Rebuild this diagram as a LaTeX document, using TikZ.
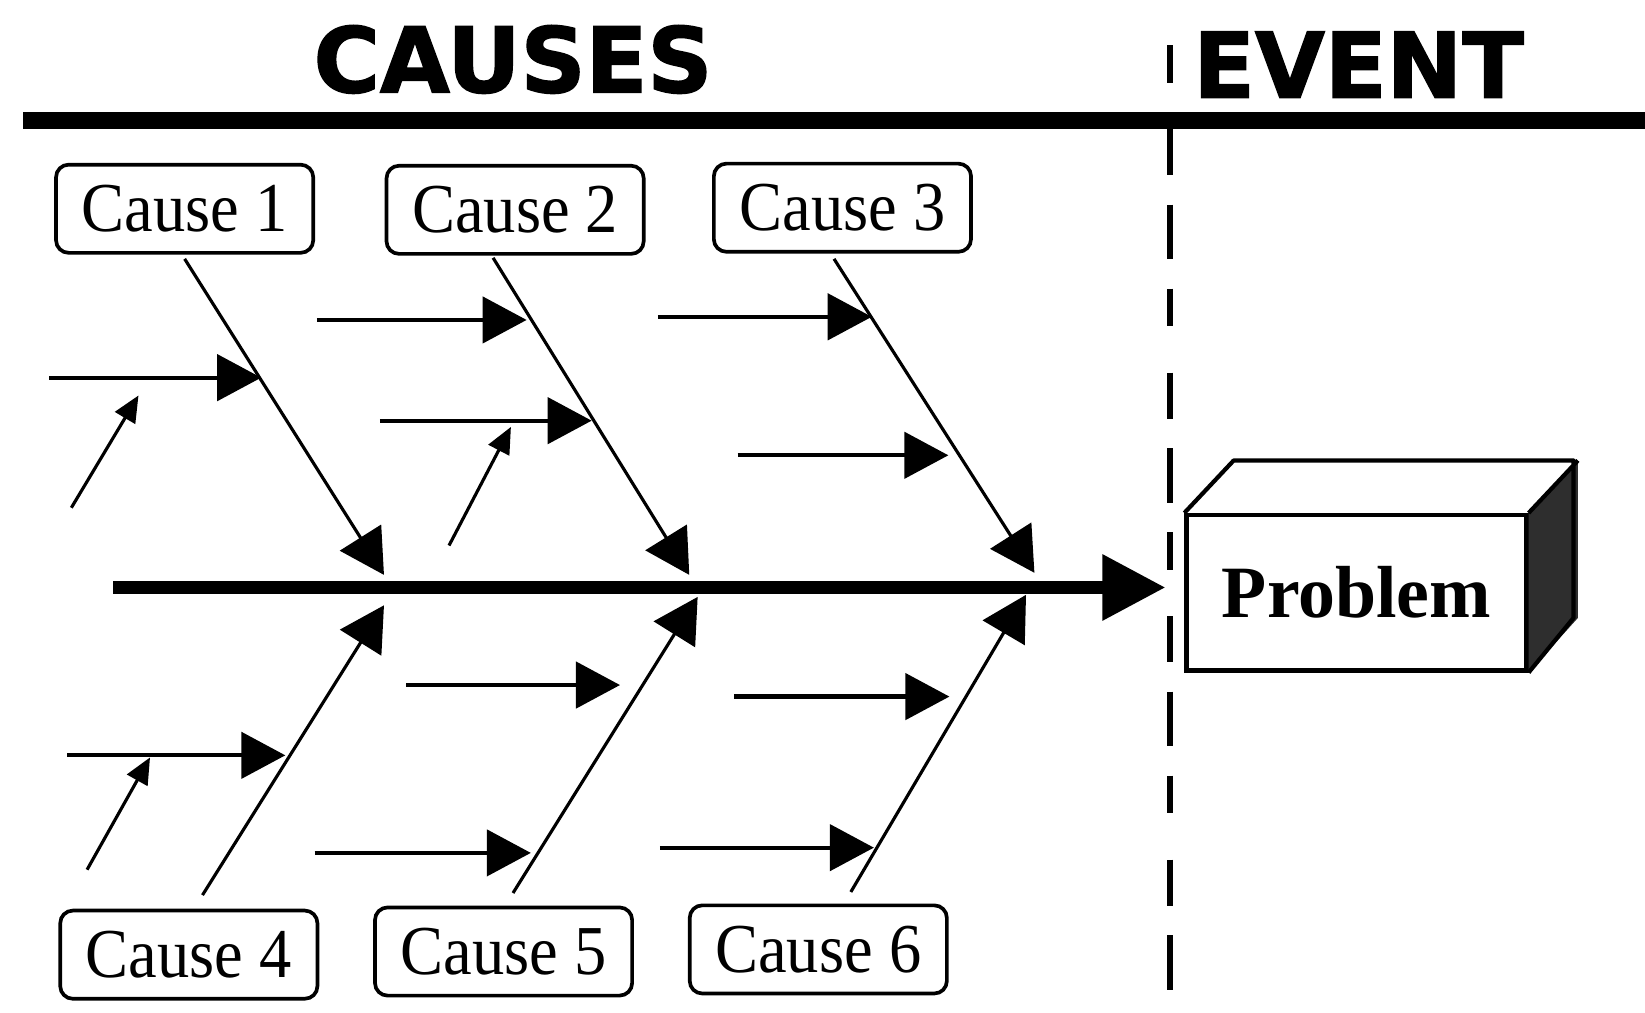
\documentclass[tikz,border=0pt]{standalone}
\usepackage{fontspec}
\setmainfont{Liberation Serif}
\newfontfamily\causefont{Liberation Serif}[FakeStretch=0.92]
\newfontfamily\headfont{DejaVu Sans}[FakeBold=1.6]
\usetikzlibrary{arrows.meta,calc}

\tikzset{
	causebox/.style={draw, line width=0.035cm, rounded corners=0.12cm, minimum width=2.45cm, minimum height=0.84cm, inner sep=0pt, font=\causefont\fontsize{19}{22}\selectfont},
	headline/.style={anchor=base, font=\headfont\bfseries\fontsize{24.5}{28}\selectfont},
	bone/.style={line width=0.03cm, -{Triangle[length=0.42cm,width=0.46cm]}},
	twig/.style={line width=0.04cm, -{Triangle[length=0.42cm,width=0.44cm]}},
	leaf/.style={line width=0.03cm, -{Triangle[length=0.25cm,width=0.22cm]}},
}

\begin{document}
\begin{tikzpicture}[x=0.01cm, y=-0.01cm]
	\useasboundingbox (0,0) rectangle (1568,965);

	\node[headline] (causes) at (489,88) {CAUSES};
	\node[headline] (event) at (1295,93) {EVENT};
	\draw[line width=0.16cm] (22,115) -- (1568,115);
	\draw[line width=0.06cm, dash pattern=on 0.36cm off 0.44cm on 0.44cm off 0.28cm on 0.52cm off 0.28cm] (1115,43) -- (1115,965);

	% the event box
	\node[draw, line width=0.04cm, minimum width=3.24cm, minimum height=1.48cm, font=\bfseries\fontsize{20}{24}\selectfont] (prob) at (1293,565) {Problem};
	\fill[black!82] (prob.north east) -- ++(47,-50) -- ++(0,150) -- (prob.south east) -- cycle;
	\draw[line width=0.04cm, line join=round] (prob.north west) -- ++(47,-50) -- ++(324,0) -- ++(0,150) -- (prob.south east) (prob.north east) -- ++(47,-50);

	\coordinate (tail) at (108,560);
	\draw[line width=0.12cm, -{Triangle[length=0.6cm,width=0.6cm]}, shorten >=0.18cm] (tail) -- (prob.west |- tail);

	\node[causebox] (c1) at (176,199) {Cause 1};
	\node[causebox] (c2) at (491,200) {Cause 2};
	\node[causebox] (c3) at (803,198) {Cause 3};
	\node[causebox] (c4) at (180,910) {Cause 4};
	\node[causebox] (c5) at (480,907) {Cause 5};
	\node[causebox] (c6) at (780,905) {Cause 6};

	% main bones
	\foreach \c/\a/\dx/\dy/\hx/\hy in {c1/south/0/4/366/548, c2/south/-21/2/657/548, c3/south/-8/5/986/546,
		c4/north/13/-13/366/577, c5/north/9/-12/665/569, c6/north/31/-11/978/567} {
		\coordinate (h\c) at (\hx,\hy);
		\draw[bone] ($(\c.\a)+(\dx,\dy)$) -- (h\c);
	}

	% sub causes
	\foreach \x/\xx/\y [count=\i] in {47/249/360, 302/502/305, 362/564/401, 627/831/302, 703/904/434,
		64/272/720, 387/591/653, 300/506/813, 700/905/664, 629/833/808} {
		\coordinate (u\i) at (\x,\y);
		\coordinate (v\i) at (\xx,\y);
		\draw[twig] (u\i) -- (v\i);
	}

	\foreach \x/\y/\xx/\yy [count=\i] in {68/484/132/377, 428/520/487/407, 83/829/143/722} {
		\coordinate (p\i) at (\x,\y);
		\coordinate (q\i) at (\xx,\yy);
		\draw[leaf] (p\i) -- (q\i);
	}
\end{tikzpicture}
\end{document}
